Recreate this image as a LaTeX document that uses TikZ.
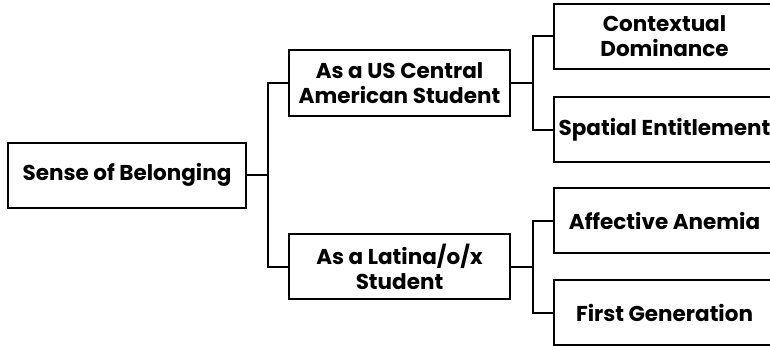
\documentclass[tikz,border=0pt]{standalone}
\usepackage{fontspec}
\setmainfont{Poppins}
\usepackage{tikz}

\begin{document}
\begin{tikzpicture}[x=1pt,y=-1pt,
  box/.style={draw, line width=2pt, minimum width=221pt, minimum height=65pt,
    align=center, inner sep=0pt, font=\fontsize{21.5}{25}\selectfont\bfseries},
  link/.style={line width=2pt}]
\useasboundingbox (0,0) rectangle (770,345);

\node[box, minimum width=238pt] (belong) at (127,175) {Sense of Belonging};
\node[box] (usca) at (399.5,83) {As a US Central\\American Student};
\node[box] (latx) at (399.5,266.5) {As a Latina/o/x\\Student};

\node[box] (dom) at (664.5,36.5) {Contextual\\Dominance};
\node[box] (spat) at (664.5,129.5) {Spatial Entitlement};
\node[box] (anem) at (664.5,220.5) {Affective Anemia};
\node[box] (first) at (664.5,312.5) {First Generation};

%elbow connectors
\draw[link] (belong.east) -- ++(21,0) |- (usca.west);
\draw[link] (belong.east) -- ++(21,0) |- (latx.west);
\draw[link] (usca.east) -- ++(22,0) |- (dom.west);
\draw[link] (usca.east) -- ++(22,0) |- (spat.west);
\draw[link] (latx.east) -- ++(22,0) |- (anem.west);
\draw[link] (latx.east) -- ++(22,0) |- (first.west);

\end{tikzpicture}
\end{document}
